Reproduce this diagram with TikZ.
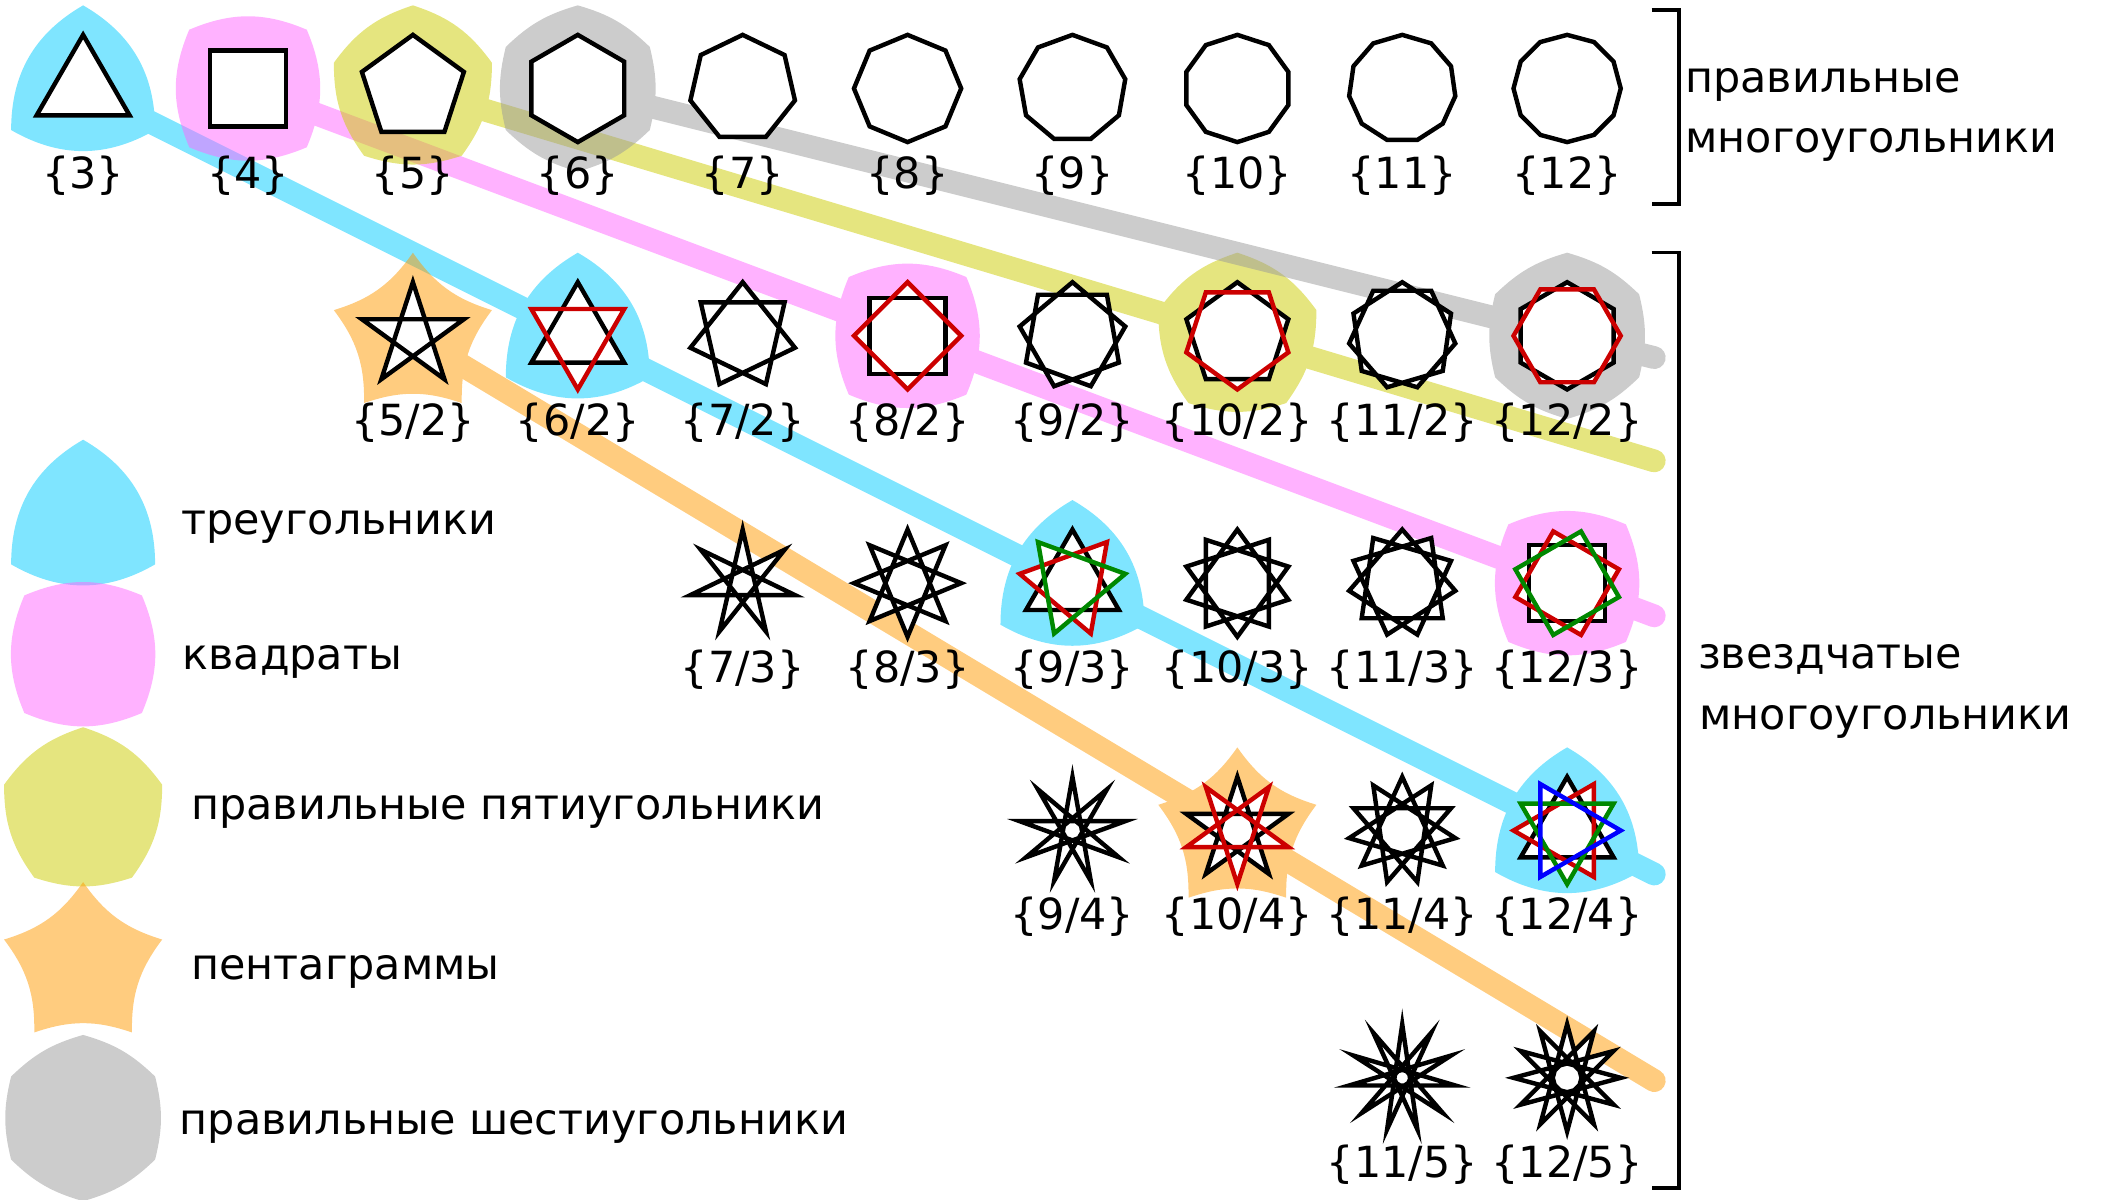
\documentclass[tikz,border=0pt]{standalone}
\usepackage{fontspec}
\setmainfont{DejaVu Sans}
\usetikzlibrary{calc}
\definecolor{cyanS}{HTML}{00CCFF}
\definecolor{pinkS}{HTML}{FF66FF}
\definecolor{yelS}{HTML}{CCCC00}
\definecolor{oraS}{HTML}{FF9900}
\definecolor{grayS}{HTML}{999999}
\definecolor{redP}{HTML}{CC0000}
\definecolor{greenP}{HTML}{008800}
\definecolor{blueP}{HTML}{0000FF}
\newcommand\lblfont{\fontsize{32}{38}\selectfont}
\newcommand\bigtxt{\fontsize{32}{38}\selectfont}
% blob: center, n, start angle, bend option, colour
\newcommand\blobshape[5]{%
  \fill[#5] ($(#1)+(#3:62pt)$) \foreach \i in {1,...,#2} { to[#4] ($(#1)+({#3+\i*(360/#2)}:62pt)$) } -- cycle;}
% polygon fill: center, n, k, m-1, start
\newcommand\pgfill[5]{%
  \fill[white] ($(#1)+(#5:40pt)$) \foreach \i in {1,...,#4} { -- ($(#1)+({#5+\i*#3*(360/#2)}:40pt)$) } -- cycle;}
% polygon stroke: center, n, k, m-1, start, colour
\newcommand\pgdraw[6]{%
  \draw[poly,#6] ($(#1)+(#5:40pt)$) \foreach \i in {1,...,#4} { -- ($(#1)+({#5+\i*#3*(360/#2)}:40pt)$) } -- cycle;}
\newcommand\pg[5]{\pgfill{#1}{#2}{#3}{#4}{#5}\pgdraw{#1}{#2}{#3}{#4}{#5}{black}}
\begin{document}
\begin{tikzpicture}[x=1pt,y=-1pt,
  poly/.style={line width=3.3pt, line join=miter, miter limit=12},
  lab/.style={font=\lblfont, inner sep=0pt, anchor=base},
  txt/.style={font=\bigtxt, inner sep=0pt, anchor=base west},
  stripe/.style={line width=17pt, line cap=round},
  brk/.style={line width=2.7pt, line join=miter}]
\useasboundingbox (0,0) rectangle (1568,895);
% centres
\foreach \n in {3,...,12} \coordinate (c\n) at ({62+123*(\n-3)},66);
\foreach \n/\k in {5/2,6/2,7/2,8/2,9/2,10/2,11/2,12/2,7/3,8/3,9/3,10/3,11/3,12/3,9/4,10/4,11/4,12/4,11/5,12/5}
  \coordinate (s\n x\k) at ({62+123*(\n-3)},{66+184.5*(\k-1)});
\coordinate (gT) at (62,390);
\coordinate (gS) at (62,488);
\coordinate (gP) at (62,604.5);
\coordinate (gG) at (62,720);
\coordinate (gH) at (62,834);
\coordinate (eC) at (1234,652);
\coordinate (eP) at (1234,459.4);
\coordinate (eY) at (1234,343.8);
\coordinate (eH) at (1234,266.75);
\coordinate (eO) at (1234,806.1);
% cyan: triangles
\begin{scope}[transparency group, opacity=0.5]
  \draw[stripe, cyanS] (c3) -- (eC);
  \blobshape{c3}{3}{90}{bend right=30}{cyanS}
  \blobshape{s6x2}{3}{90}{bend right=30}{cyanS}
  \blobshape{s9x3}{3}{90}{bend right=30}{cyanS}
  \blobshape{s12x4}{3}{90}{bend right=30}{cyanS}
  \blobshape{gT}{3}{90}{bend right=30}{cyanS}
\end{scope}
% pink: squares
\begin{scope}[transparency group, opacity=0.5]
  \draw[stripe, pinkS] (c4) -- (eP);
  \blobshape{c4}{4}{45}{bend right=23}{pinkS}
  \blobshape{s8x2}{4}{45}{bend right=23}{pinkS}
  \blobshape{s12x3}{4}{45}{bend right=23}{pinkS}
  \blobshape{gS}{4}{45}{bend right=23}{pinkS}
\end{scope}
% yellow: pentagons
\begin{scope}[transparency group, opacity=0.5]
  \draw[stripe, yelS] (c5) -- (eY);
  \blobshape{c5}{5}{90}{bend right=18}{yelS}
  \blobshape{s10x2}{5}{90}{bend right=18}{yelS}
  \blobshape{gP}{5}{90}{bend right=18}{yelS}
\end{scope}
% gray: hexagons
\begin{scope}[transparency group, opacity=0.5]
  \draw[stripe, grayS] (c6) -- (eH);
  \blobshape{c6}{6}{90}{bend right=14}{grayS}
  \blobshape{s12x2}{6}{90}{bend right=14}{grayS}
  \blobshape{gH}{6}{90}{bend right=14}{grayS}
\end{scope}
% orange: pentagrams
\begin{scope}[transparency group, opacity=0.5]
  \draw[stripe, oraS] (s5x2) -- (eO);
  \blobshape{s5x2}{5}{90}{bend left=19}{oraS}
  \blobshape{s10x4}{5}{90}{bend left=19}{oraS}
  \blobshape{gG}{5}{90}{bend left=19}{oraS}
\end{scope}
% regular polygons
\pg{c3}{3}{1}{2}{90}
\pg{c4}{4}{1}{3}{45}
\pg{c5}{5}{1}{4}{90}
\pg{c6}{6}{1}{5}{90}
\pg{c7}{7}{1}{6}{90}
\pg{c8}{8}{1}{7}{90}
\pg{c9}{9}{1}{8}{90}
\pg{c10}{10}{1}{9}{90}
\pg{c11}{11}{1}{10}{90}
\pg{c12}{12}{1}{11}{90}
% row k=2
\pg{s5x2}{5}{2}{4}{90}
\pgfill{s6x2}{6}{2}{2}{90}\pgfill{s6x2}{6}{2}{2}{30}
\pgdraw{s6x2}{6}{2}{2}{90}{black}\pgdraw{s6x2}{6}{2}{2}{30}{redP}
\pg{s7x2}{7}{2}{6}{90}
\pgfill{s8x2}{8}{2}{3}{45}\pgfill{s8x2}{8}{2}{3}{0}
\pgdraw{s8x2}{8}{2}{3}{45}{black}\pgdraw{s8x2}{8}{2}{3}{0}{redP}
\pg{s9x2}{9}{2}{8}{90}
\pgfill{s10x2}{10}{2}{4}{90}\pgfill{s10x2}{10}{2}{4}{54}
\pgdraw{s10x2}{10}{2}{4}{90}{black}\pgdraw{s10x2}{10}{2}{4}{54}{redP}
\pg{s11x2}{11}{2}{10}{90}
\pgfill{s12x2}{12}{2}{5}{90}\pgfill{s12x2}{12}{2}{5}{60}
\pgdraw{s12x2}{12}{2}{5}{90}{black}\pgdraw{s12x2}{12}{2}{5}{60}{redP}
% row k=3
\pg{s7x3}{7}{3}{6}{90}
\pg{s8x3}{8}{3}{7}{90}
\pgfill{s9x3}{9}{3}{2}{90}\pgfill{s9x3}{9}{3}{2}{50}\pgfill{s9x3}{9}{3}{2}{10}
\pgdraw{s9x3}{9}{3}{2}{90}{black}\pgdraw{s9x3}{9}{3}{2}{50}{redP}\pgdraw{s9x3}{9}{3}{2}{10}{greenP}
\pg{s10x3}{10}{3}{9}{90}
\pg{s11x3}{11}{3}{10}{90}
\pgfill{s12x3}{12}{3}{3}{45}\pgfill{s12x3}{12}{3}{3}{15}\pgfill{s12x3}{12}{3}{3}{-15}
\pgdraw{s12x3}{12}{3}{3}{45}{black}\pgdraw{s12x3}{12}{3}{3}{15}{redP}\pgdraw{s12x3}{12}{3}{3}{-15}{greenP}
% row k=4
\pg{s9x4}{9}{4}{8}{90}
\pgfill{s10x4}{10}{4}{4}{90}\pgfill{s10x4}{10}{4}{4}{54}
\pgdraw{s10x4}{10}{4}{4}{90}{black}\pgdraw{s10x4}{10}{4}{4}{54}{redP}
\pg{s11x4}{11}{4}{10}{90}
\pgfill{s12x4}{12}{4}{2}{90}\pgfill{s12x4}{12}{4}{2}{60}\pgfill{s12x4}{12}{4}{2}{30}\pgfill{s12x4}{12}{4}{2}{0}
\pgdraw{s12x4}{12}{4}{2}{90}{black}\pgdraw{s12x4}{12}{4}{2}{60}{redP}\pgdraw{s12x4}{12}{4}{2}{30}{greenP}\pgdraw{s12x4}{12}{4}{2}{0}{blueP}
% row k=5
\pg{s11x5}{11}{5}{10}{90}
\pg{s12x5}{12}{5}{11}{90}
% labels
\foreach \n in {3,...,12} \node[lab] (L\n) at ($(c\n)+(0,74.5)$) {\{\n\}};
\foreach \n/\k in {5/2,6/2,7/2,8/2,9/2,10/2,11/2,12/2,7/3,8/3,9/3,10/3,11/3,12/3,9/4,10/4,11/4,12/4,11/5,12/5}
  \node[lab] (L\n x\k) at ($(s\n x\k)+(0,74)$) {\{\n/\k\}};
% legend texts
\node[txt] (tT) at (135,398.8) {треугольники};
\node[txt] (tS) at (136,499.2) {квадраты};
\node[txt] (tP) at (142.5,611.3) {правильные пятиугольники};
\node[txt] (tG) at (142.5,730.3) {пентаграммы};
\node[txt] (tH) at (134,846.5) {правильные шестиугольники};
% brackets
\coordinate (b1a) at (1232,7.6);
\coordinate (b1b) at (1252.4,7.6);
\coordinate (b1c) at (1252.4,152.2);
\coordinate (b1d) at (1232,152.2);
\draw[brk] (b1a) -- (b1b) -- (b1c) -- (b1d);
\coordinate (b2a) at (1232,188.4);
\coordinate (b2b) at (1252.4,188.4);
\coordinate (b2c) at (1252.4,886.4);
\coordinate (b2d) at (1232,886.4);
\draw[brk] (b2a) -- (b2b) -- (b2c) -- (b2d);
\node[txt] (rt1) at (1257,69.3) {правильные};
\node[txt] (rt2) at (1257,114) {многоугольники};
\node[txt] (st1) at (1266.5,499) {звездчатые};
\node[txt] (st2) at (1267.5,544) {многоугольники};
\end{tikzpicture}
\end{document}
